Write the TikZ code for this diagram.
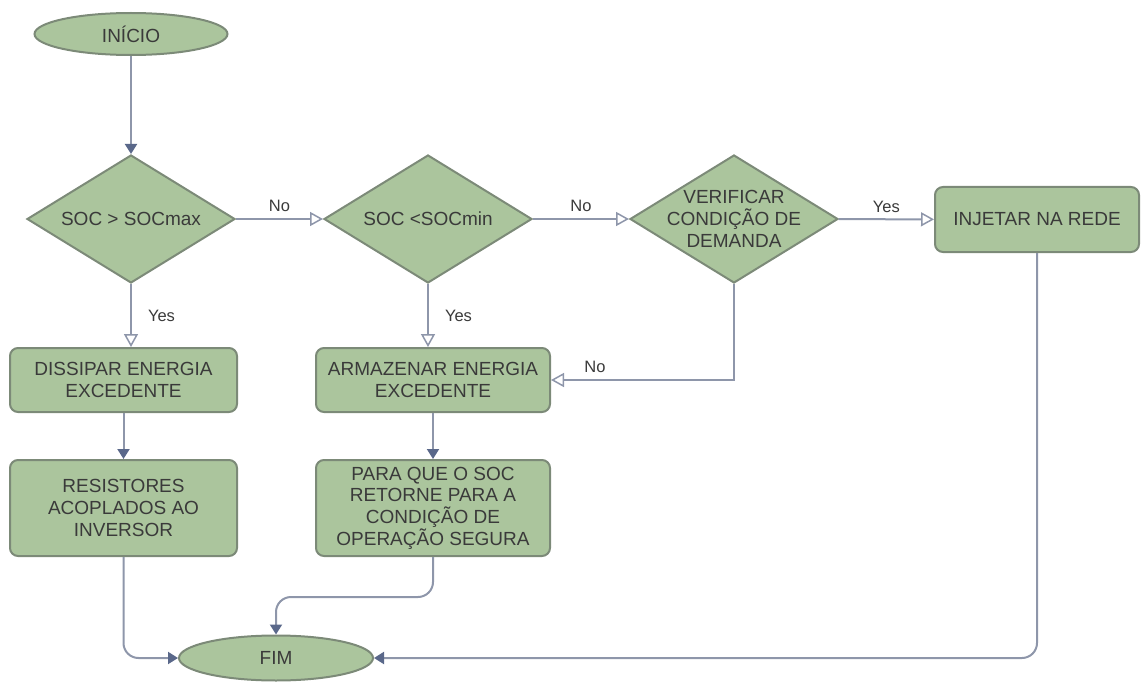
\documentclass[tikz,border=0pt]{standalone}
\usepackage{fontspec}
\setmainfont{Liberation Sans}
\usetikzlibrary{shapes.geometric,arrows.meta}

\definecolor{boxfill}{RGB}{171,197,157}
\definecolor{boxline}{RGB}{124,138,120}
\definecolor{edgeline}{RGB}{142,150,170}
\definecolor{tipfill}{RGB}{90,104,138}
\definecolor{textgray}{RGB}{58,58,58}

\begin{document}
\begin{tikzpicture}[x=1pt,y=-1pt]
    \tikzset{nodetext/.style={align=center, text=textgray, font=\fontsize{19}{21.7}\selectfont}}
    \tikzset{block/.style={nodetext, draw=boxline, line width=2pt, fill=boxfill, inner sep=0pt}}
    \tikzset{process/.style={block, rectangle, rounded corners=8pt}}
    \tikzset{terminal/.style={block, ellipse}}
    \tikzset{decision/.style={block, diamond, minimum width=208pt, minimum height=128pt}}
    \tikzset{edgelabel/.style={text=textgray, font=\fontsize{16.5}{20}\selectfont, inner sep=2pt}}
    \tikzset{flow/.style={draw=edgeline, line width=2pt, rounded corners=15pt,
        -{Triangle[width=12pt, length=10pt, color=tipfill]}}}
    \tikzset{branch/.style={draw=edgeline, line width=2pt,
        -{Triangle[open, width=14pt, length=13pt, fill=white, line width=1.5pt]}}}

    % frame
    \useasboundingbox (0,0) rectangle (1141,682);

    % terminals
    \node (inicio) [terminal, minimum width=193pt, minimum height=42pt] at (131,34) {INÍCIO};
    \node (fim) [terminal, minimum width=194pt, minimum height=45pt] at (276,658) {FIM};

    % decisions
    \node (socmax) [decision, label={[nodetext]center:{SOC > SOCmax}}] at (131,219) {};
    \node (socmin) [decision, label={[nodetext]center:{SOC <SOCmin}}] at (428,219) {};
    \node (demanda) [decision, label={[nodetext]center:{VERIFICAR\\CONDIÇÃO DE\\DEMANDA}}] at (734,219) {};

    % processes
    \node (injetar) [process, minimum width=204pt, minimum height=65pt] at (1037,219.5) {INJETAR NA REDE};
    \node (dissipar) [process, minimum width=227pt, minimum height=64pt] at (123.5,380) {DISSIPAR ENERGIA\\EXCEDENTE};
    \node (resistores) [process, minimum width=227pt, minimum height=96pt] at (123.5,508) {RESISTORES\\ACOPLADOS AO\\INVERSOR};
    \node (armazenar) [process, minimum width=234pt, minimum height=64pt] at (433,380) {ARMAZENAR ENERGIA\\EXCEDENTE};
    \node (seguro) [process, minimum width=234pt, minimum height=96pt] at (433,508) {PARA QUE O SOC\\RETORNE PARA A\\CONDIÇÃO DE\\OPERAÇÃO SEGURA};

    % yes / no branches
    \draw[branch] (socmax) -- node[edgelabel, above, yshift=4pt] {No} (socmin);
    \draw[branch] (socmin) -- node[edgelabel, above, yshift=4pt] {No} (demanda);
    \draw[branch] (demanda) -- node[edgelabel, above, yshift=4pt] {Yes} (injetar);
    \draw[branch] (socmax.south) -- node[edgelabel, right, xshift=14pt] {Yes} (socmax.south |- dissipar.north);
    \draw[branch] (socmin.south) -- node[edgelabel, right, xshift=14pt] {Yes} (socmin.south |- armazenar.north);
    \draw[branch] (demanda.south) |- node[edgelabel, pos=0.88, above, yshift=4pt] {No} (armazenar.east);

    % plain flow
    \draw[flow] (inicio) -- (socmax);
    \draw[flow] (dissipar) -- (resistores);
    \draw[flow] (armazenar) -- (seguro);
    \draw[flow] (resistores.south) |- (fim.west);
    \draw[flow] (seguro.south) -- ++(0,40) -| (fim.north);
    \draw[flow] (injetar.south) |- (fim.east);

\end{tikzpicture}
\end{document}
